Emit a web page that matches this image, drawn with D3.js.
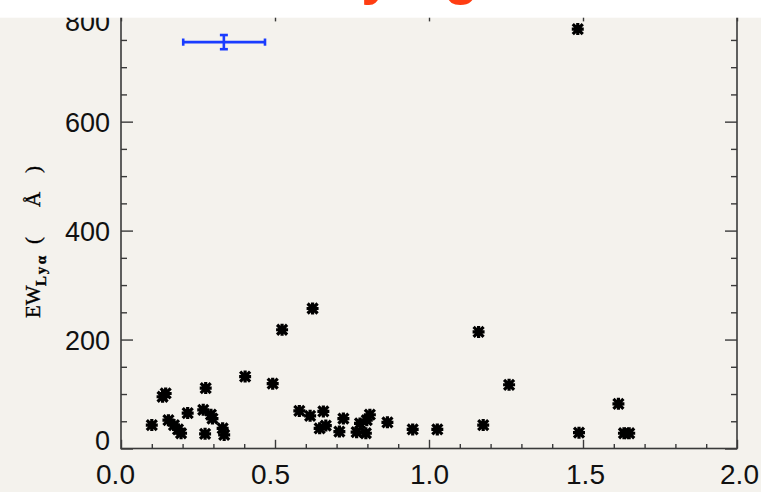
<!DOCTYPE html>
<html><head><meta charset="utf-8">
<script src="https://cdn.jsdelivr.net/npm/d3@7"></script>
<style>
html,body{margin:0;padding:0;background:#f4f2ed;}
svg{display:block;}
</style></head>
<body>
<svg id="chart" width="761" height="492"></svg>
<script>
// ---- data ----
const redshift = [0.100,0.135,0.145,0.154,0.172,0.185,0.195,0.2165,0.267,0.275,0.273,0.292,0.297,0.330,0.335,
  0.403,0.4925,0.523,0.622,0.579,0.614,0.657,0.645,0.665,0.709,0.722,0.765,0.776,0.795,0.798,0.808,
  0.865,0.947,1.027,1.161,1.176,1.260,1.483,1.487,1.615,1.633,1.650];
const ewLya = [43,95,101,52,43,35,28,65,71,111,27,62,55,37,25,
  132,119,218,257,69,60,68,37,42,31,55,30,46,28,52,62,
  48,35,35,214,43,117,770,29,82,28,28];
const errX = [0.334], errXLo = [0.202], errXHi = [0.4675];
const errY = [746], errYErr = [13];
const xTickValues = [0,0.5,1,1.5,2];
const xTickLabels = ["0.0","0.5","1.0","1.5","2.0"];
const yTickValues = [0,200,400,600,800];
const yTickLabels = ["0","200","400","600","800"];
const xMinorValues = [0.1,0.2,0.3,0.4,0.6,0.7,0.8,0.9,1.1,1.2,1.3,1.4,1.6,1.7,1.8,1.9];
const yMinorValues = [50,100,150,250,300,350,450,500,550,650,700,750];
const titleStart = "Lyα";
const titleEnd = "galaxies";

// ---- layout ----
const svg = d3.select("#chart");
const L = 121, R = 737, B = 448.5, T = 12.7;
const x = d3.scaleLinear().domain([0,2]).range([L,R]);
const y = d3.scaleLinear().domain([0,800]).range([B,T]);
const axisColor = "#3a3a3a";

svg.append("rect").attr("width",761).attr("height",492).attr("fill","#f4f2ed");

function styleAxis(g){
  g.select(".domain").remove();
  g.selectAll(".tick line").attr("stroke",axisColor).attr("stroke-width",1.4);
  g.selectAll("text").attr("fill","#111").attr("font-family","'Liberation Sans', Arial, sans-serif");
}

// bottom major with labels
svg.append("g").attr("transform",`translate(0,${B})`)
  .call(d3.axisBottom(x).tickValues(xTickValues).tickSize(-8.7).tickSizeOuter(0).tickPadding(15.5)
    .tickFormat((d,i)=>xTickLabels[i]))
  .call(styleAxis).call(g=>g.selectAll("text").attr("font-size",28)
    .attr("dx",d=> d<0.25 ? -6 : d<0.75 ? -5 : d>1.25 ? 2 : 0));
svg.append("g").attr("transform",`translate(0,${B})`)
  .call(d3.axisBottom(x).tickValues(xMinorValues).tickSize(-4.4).tickSizeOuter(0).tickFormat(""))
  .call(styleAxis);
// top
svg.append("g").attr("transform",`translate(0,${T})`)
  .call(d3.axisTop(x).tickValues(xTickValues).tickSize(-8.7).tickSizeOuter(0).tickFormat(""))
  .call(styleAxis);
svg.append("g").attr("transform",`translate(0,${T})`)
  .call(d3.axisTop(x).tickValues(xMinorValues).tickSize(-4.4).tickSizeOuter(0).tickFormat(""))
  .call(styleAxis);
// left
svg.append("g").attr("transform",`translate(${L},0)`)
  .call(d3.axisLeft(y).tickValues(yTickValues).tickSize(-12).tickSizeOuter(0).tickPadding(11)
    .tickFormat((d,i)=>yTickLabels[i]))
  .call(styleAxis).call(g=>g.selectAll("text").attr("font-size",27).attr("dy","0.36em")
    .attr("y",d=> d===0 ? -9 : d===800 ? 8 : 0));
svg.append("g").attr("transform",`translate(${L},0)`)
  .call(d3.axisLeft(y).tickValues(yMinorValues).tickSize(-6).tickSizeOuter(0).tickFormat(""))
  .call(styleAxis);
// right
svg.append("g").attr("transform",`translate(${R},0)`)
  .call(d3.axisRight(y).tickValues(yTickValues).tickSize(-12).tickSizeOuter(0).tickFormat(""))
  .call(styleAxis);
svg.append("g").attr("transform",`translate(${R},0)`)
  .call(d3.axisRight(y).tickValues(yMinorValues).tickSize(-6).tickSizeOuter(0).tickFormat(""))
  .call(styleAxis);

// frame
svg.append("rect").attr("x",L).attr("y",T).attr("width",R-L).attr("height",B-T)
  .attr("fill","none").attr("stroke",axisColor).attr("stroke-width",1.6);

// markers (IDL-style asterisk)
const r = 6, a = 5;
const star = `M${-r},0L${r},0M0,${-r}L0,${r}M${-a},${-a}L${a},${a}M${-a},${a}L${a},${-a}`;
svg.append("g").selectAll("path").data(redshift.map((d,i)=>[d,ewLya[i]])).join("path")
  .attr("transform",d=>`translate(${x(d[0])},${y(d[1])})`)
  .attr("d",star).attr("stroke","#000").attr("stroke-width",3.2).attr("fill","none");

// error bar
const eb = svg.append("g").attr("stroke","#1a3cff").attr("stroke-width",2.6).attr("fill","none");
errX.forEach((cx,i)=>{
  const cy = y(errY[i]);
  eb.append("line").attr("x1",x(errXLo[i])).attr("x2",x(errXHi[i])).attr("y1",cy).attr("y2",cy);
  eb.append("line").attr("x1",x(errXLo[i])).attr("x2",x(errXLo[i])).attr("y1",cy-3.6).attr("y2",cy+3.6);
  eb.append("line").attr("x1",x(errXHi[i])).attr("x2",x(errXHi[i])).attr("y1",cy-3.6).attr("y2",cy+3.6);
  const y1 = y(errY[i]+errYErr[i]), y2 = y(errY[i]-errYErr[i]);
  eb.append("line").attr("x1",x(cx)).attr("x2",x(cx)).attr("y1",y1).attr("y2",y2);
  eb.append("line").attr("x1",x(cx)-4).attr("x2",x(cx)+4).attr("y1",y1).attr("y2",y1);
  eb.append("line").attr("x1",x(cx)-4).attr("x2",x(cx)+4).attr("y1",y2).attr("y2",y2);
});

// y axis title
const serif = "'Liberation Serif','DejaVu Serif',serif";
function rot(txt, px, py, size, weight, spacing){
  svg.append("text").attr("transform",`translate(${px},${py}) rotate(-90)`)
    .attr("font-family",serif).attr("font-size",size).attr("font-weight",weight||"normal")
    .attr("letter-spacing",spacing||0).attr("fill","#000")
    .attr("stroke","#000").attr("stroke-width",0.35).text(txt);
}
rot("EW", 40, 318, 21);
rot("Lyα", 46, 286, 15, "bold", 2.5);
rot("(", 40, 244, 21);
rot("Å", 40, 207, 21);
rot(")", 40, 173, 21);

// top white band and clipped title
svg.append("rect").attr("x",0).attr("y",0).attr("width",761).attr("height",17.7).attr("fill","#fff");
const title = svg.append("text").attr("x",329).attr("y",-7).attr("font-family","'Liberation Sans', Arial, sans-serif")
  .attr("font-weight","bold").attr("font-size",56).attr("fill","#ff3d12");
title.append("tspan").text(titleStart);
title.append("tspan").attr("x",444).text(titleEnd);
</script>
</body></html>
